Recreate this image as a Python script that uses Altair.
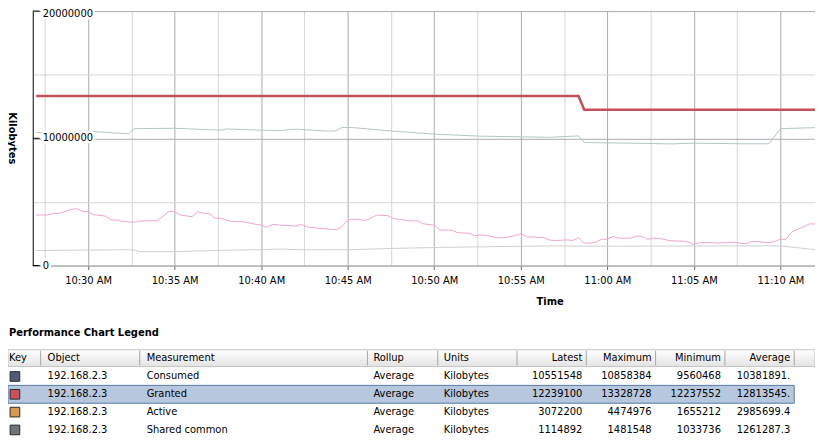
import altair as alt
import pandas as pd

FONT = "DejaVu Sans"
DAY = "2010-01-01T"

# ---------------- series data (Kilobytes) ----------------
granted_times = ["10:27:00", "10:58:20", "10:58:40", "11:12:00"]
granted_values = [13328728, 13328728, 12239100, 12239100]

consumed_times = ["10:27:00", "10:30:00", "10:32:20", "10:32:40", "10:35:00", "10:37:40", "10:38:00",
                  "10:40:00", "10:41:00", "10:42:00", "10:44:00", "10:44:20", "10:44:40", "10:45:20",
                  "10:47:40", "10:49:00", "10:50:00", "10:52:40", "10:55:00", "10:56:40", "10:58:20",
                  "10:58:40", "11:02:20", "11:03:40", "11:05:00", "11:08:00", "11:09:20", "11:10:00",
                  "11:12:00"]
consumed_values = [10450000, 10560000, 10350000, 10760000, 10790000, 10640000, 10740000,
                   10640000, 10610000, 10720000, 10560000, 10600000, 10858384, 10840000,
                   10560000, 10430000, 10330000, 10170000, 10120000, 10080000, 10190000,
                   9670000, 9600000, 9560468, 9620000, 9570000, 9570000, 10760000,
                   10840000]

active_times = ["10:27:00", "10:27:40", "10:28:00", "10:28:20", "10:29:00", "10:29:20", "10:29:40", "10:30:00",
                "10:30:20", "10:31:00", "10:31:20", "10:31:40", "10:32:00", "10:32:40", "10:33:00", "10:33:40",
                "10:34:00", "10:34:40", "10:35:00", "10:35:20", "10:36:00", "10:36:20", "10:36:40", "10:37:00",
                "10:37:20", "10:37:40", "10:38:20", "10:39:00", "10:39:40", "10:40:00", "10:40:20", "10:40:40",
                "10:41:00", "10:42:00", "10:42:20", "10:42:40", "10:43:20", "10:44:00", "10:44:20", "10:44:40",
                "10:45:00", "10:45:20", "10:46:00", "10:46:20", "10:46:40", "10:47:20", "10:47:40", "10:48:00",
                "10:48:40", "10:49:00", "10:49:20", "10:50:00", "10:50:20", "10:51:00", "10:51:20", "10:52:00",
                "10:52:20", "10:52:40", "10:53:00", "10:53:40", "10:54:00", "10:54:40", "10:55:00", "10:55:20",
                "10:56:20", "10:56:40", "10:57:00", "10:57:40", "10:58:00", "10:58:20", "10:58:40", "10:59:00",
                "10:59:20", "10:59:40", "11:00:00", "11:00:20", "11:00:40", "11:01:20", "11:01:40", "11:02:00",
                "11:02:20", "11:02:40", "11:03:00", "11:03:40", "11:04:20", "11:04:40", "11:05:00", "11:05:20",
                "11:06:00", "11:06:20", "11:07:20", "11:07:40", "11:08:00", "11:08:20", "11:08:40", "11:09:20",
                "11:09:40", "11:10:00", "11:10:20", "11:10:40", "11:11:20", "11:11:40", "11:12:00"]
active_values = [3970000, 3970000, 4100000, 4100000, 4410000, 4474976, 4260000, 4230000,
                 4000000, 3890000, 3580000, 3580000, 3480000, 3400000, 3500000, 3530000,
                 3530000, 4260000, 4230000, 3970000, 3840000, 4230000, 4100000, 4100000,
                 3740000, 3710000, 3450000, 3450000, 3240000, 3190000, 3010000, 3240000,
                 3190000, 3110000, 3240000, 3030000, 2930000, 2850000, 2800000, 3060000,
                 3580000, 3660000, 3550000, 3710000, 3970000, 3920000, 3680000, 3630000,
                 3500000, 3530000, 3290000, 3170000, 2800000, 2780000, 2590000, 2540000,
                 2360000, 2410000, 2360000, 2180000, 2180000, 2360000, 2510000, 2260000,
                 2200000, 2000000, 1970000, 2020000, 1970000, 2180000, 1760000, 1760000,
                 1840000, 2070000, 2070000, 2280000, 2150000, 2150000, 2330000, 2280000,
                 2070000, 2150000, 2130000, 1950000, 1920000, 1840000, 1655212, 1790000,
                 1810000, 1760000, 1840000, 1760000, 1710000, 1890000, 1890000, 1790000,
                 1890000, 2070000, 2070000, 2670000, 3030000, 3270000, 3270000]

shared_times = ["10:27:00", "10:30:00", "10:32:20", "10:32:40", "10:33:00", "10:35:00", "10:37:20",
                "10:40:00", "10:41:00", "10:42:00", "10:45:00", "10:47:40", "10:50:00", "10:53:00",
                "10:57:00", "10:58:40", "11:10:00", "11:11:00", "11:12:00"]
shared_values = [1180000, 1220000, 1240000, 1220000, 1090000, 1090000, 1190000,
                 1250000, 1300000, 1250000, 1240000, 1350000, 1420000, 1480000,
                 1550000, 1520000, 1550000, 1400000, 1250000]

# ---------------- axis ticks ----------------
x_tick_times = ["10:27:30", "10:30:00", "10:32:30", "10:35:00", "10:37:30", "10:40:00", "10:42:30",
                "10:45:00", "10:47:30", "10:50:00", "10:52:30", "10:55:00", "10:57:30", "11:00:00",
                "11:02:30", "11:05:00", "11:07:30", "11:10:00"]
x_domain_times = ["10:26:48", "11:12:00"]
y_ticks = [0, 2500000, 5000000, 7500000, 10000000, 12500000, 15000000, 17500000, 20000000]
y_label_values = [0, 10000000, 20000000]

# ---------------- legend table ----------------
header_labels = ["Key", "Object", "Measurement", "Rollup", "Units", "Latest", "Maximum", "Minimum", "Average"]
legend_key_colors = ["#525a78", "#c9525c", "#d99a52", "#6e7478"]
legend_objects = ["192.168.2.3", "192.168.2.3", "192.168.2.3", "192.168.2.3"]
legend_measurements = ["Consumed", "Granted", "Active", "Shared common"]
legend_rollups = ["Average", "Average", "Average", "Average"]
legend_units = ["Kilobytes", "Kilobytes", "Kilobytes", "Kilobytes"]
legend_latest = [10551548, 12239100, 3072200, 1114892]
legend_maximum = [10858384, 13328728, 4474976, 1481548]
legend_minimum = [9560468, 12237552, 1655212, 1033736]
legend_average = ["10381891.", "12813545.", "2985699.4", "1261287.3"]
selected_row = 1

# ---------------- layout (pixels, relative to plot origin) ----------------
W, H = 790, 257
header_x = [-24, 15, 115, 344, 415, 555, 625, 695, 765]
header_align = ["left", "left", "left", "left", "left", "right", "right", "right", "right"]
separator_x = [8, 108, 338, 409, 489, 559, 629, 699, 769]
row_y = [369, 387, 405, 423]
header_y = 350


def dt(t):
    h, m, s = (int(p) for p in t.split(":"))
    return alt.DateTime(year=2010, month=1, date=1, hours=h, minutes=m, seconds=s)


series_rows = []
for name, ts, vs in [("Consumed", consumed_times, consumed_values),
                     ("Active", active_times, active_values),
                     ("Shared common", shared_times, shared_values)]:
    for t, v in zip(ts, vs):
        series_rows.append({"series": name, "time": DAY + t, "value": v})
df_others = pd.DataFrame(series_rows)
df_granted = pd.DataFrame({"time": [DAY + t for t in granted_times], "value": granted_values})

x_scale = alt.Scale(domain=[dt(t) for t in x_domain_times])
y_scale = alt.Scale(domain=[0, 20000000], nice=False, zero=True)

x_axis = alt.Axis(
    values=[dt(t) for t in x_tick_times],
    title="Time", titleFont=FONT, titleFontSize=10, titleFontWeight="bold", titleColor="#000000",
    titleX=522, titleY=36, titleBaseline="middle", titleAlign="center",
    labelExpr="(minutes(datum.value) % 5 == 0 && seconds(datum.value) == 0) ? timeFormat(datum.value, '%-I:%M %p') : ''",
    labelFont=FONT, labelFontSize=10, labelColor="#000000", labelPadding=6,
    labelOverlap=False, labelFlush=False,
    tickSize=4,
    tickColor={"condition": {"test": "minutes(datum.value) % 5 == 0 && seconds(datum.value) == 0",
                             "value": "#6b6b6b"}, "value": "transparent"},
    gridColor={"condition": {"test": "minutes(datum.value) % 5 == 0 && seconds(datum.value) == 0",
                             "value": "#ababab"}, "value": "#d6d6d6"},
    grid=True, domainColor="#a8a8a8",
)
y_axis = alt.Axis(
    values=y_ticks, labels=False, ticks=False, grid=True,
    gridColor={"condition": {"test": "datum.value % 10000000 == 0", "value": "#ababab"}, "value": "#d6d6d6"},
    domainColor="#000000",
    title="Kilobytes", titleFont=FONT, titleFontSize=10, titleFontWeight="bold", titleColor="#000000",
    titleAngle=90, titleX=-21, titleY=128, titleAlign="center", titleBaseline="middle",
)

lines_others = alt.Chart(df_others).mark_line(strokeWidth=1).encode(
    x=alt.X("time:T", scale=x_scale, axis=x_axis),
    y=alt.Y("value:Q", scale=y_scale, axis=y_axis),
    color=alt.Color("series:N", scale=alt.Scale(domain=["Consumed", "Active", "Shared common"],
                                                range=["#b3c6bb", "#eda5cf", "#cfcfcf"]), legend=None),
)
lines_granted = alt.Chart(df_granted).mark_line(strokeWidth=2.5, color="#c4505a").encode(
    x="time:T", y="value:Q")

df_ylab = pd.DataFrame({"v": y_label_values})


def ylabel_layers(test, shift):
    base = alt.Chart(df_ylab).transform_filter(test)
    halo = base.mark_text(
        align="left", baseline="middle", font=FONT, fontSize=10, fill="white",
        stroke="white", strokeWidth=5, dy=shift).encode(
        x=alt.value(10), y="v:Q", text=alt.Text("v:Q", format="d"))
    txt = base.mark_text(
        align="left", baseline="middle", font=FONT, fontSize=10, color="#000000", dy=shift).encode(
        x=alt.value(10), y="v:Q", text=alt.Text("v:Q", format="d"))
    return [halo, txt]


ylab_layers = ylabel_layers("datum.v < 20000000", 0) + ylabel_layers("datum.v >= 20000000", 3)
ylab_ticks = alt.Chart(df_ylab).mark_rule(color="#000000").encode(
    x=alt.value(0), x2=alt.value(7), y="v:Q")

one = alt.Data(values=[{"k": 0}])

title_text = alt.Chart(one).mark_text(
    text="Performance Chart Legend", align="left", baseline="middle",
    font=FONT, fontSize=10, fontWeight="bold", color="#000000").encode(
    x=alt.value(-24), y=alt.value(325))

header_rect = alt.Chart(one).mark_rect(
    fill=alt.LinearGradient(gradient="linear",
                            stops=[alt.GradientStop(color="#ffffff", offset=0),
                                   alt.GradientStop(color="#e3e3e3", offset=1)],
                            x1=0, x2=0, y1=0, y2=1),
    stroke="#c2c2c2", strokeWidth=1).encode(
    x=alt.value(-25), x2=alt.value(W), y=alt.value(342), y2=alt.value(359))

df_sep = pd.DataFrame({"px": separator_x})
separators = alt.Chart(df_sep).mark_rule(color="#a6a6a6").encode(
    x=alt.X("px:Q", scale=None), y=alt.value(343), y2=alt.value(358))

df_head = pd.DataFrame({"txt": header_labels, "px": header_x, "al": header_align})
head_left = alt.Chart(df_head).transform_filter("datum.al == 'left'").mark_text(
    align="left", baseline="middle", font=FONT, fontSize=10, color="#000000").encode(
    x=alt.X("px:Q", scale=None), y=alt.value(header_y), text="txt:N")
head_right = alt.Chart(df_head).transform_filter("datum.al == 'right'").mark_text(
    align="right", baseline="middle", font=FONT, fontSize=10, color="#000000").encode(
    x=alt.X("px:Q", scale=None), y=alt.value(header_y), text="txt:N")

sel_rect = alt.Chart(one).mark_rect(fill="#b6c7de", stroke="#5477aa", strokeWidth=1).encode(
    x=alt.value(-25), x2=alt.value(769),
    y=alt.value(row_y[selected_row] - 9), y2=alt.value(row_y[selected_row] + 9))

cells = []
columns = [legend_objects, legend_measurements, legend_rollups, legend_units,
           legend_latest, legend_maximum, legend_minimum, legend_average]
for ci, col in enumerate(columns):
    for ri, val in enumerate(col):
        cells.append({"txt": str(val), "px": header_x[ci + 1], "py": row_y[ri], "al": header_align[ci + 1]})
df_cells = pd.DataFrame(cells)
cells_left = alt.Chart(df_cells).transform_filter("datum.al == 'left'").mark_text(
    align="left", baseline="middle", font=FONT, fontSize=10, color="#000000").encode(
    x=alt.X("px:Q", scale=None), y=alt.Y("py:Q", scale=None), text="txt:N")
cells_right = alt.Chart(df_cells).transform_filter("datum.al == 'right'").mark_text(
    align="right", baseline="middle", font=FONT, fontSize=10, color="#000000").encode(
    x=alt.X("px:Q", scale=None), y=alt.Y("py:Q", scale=None), text="txt:N")

df_keys = pd.DataFrame({"c": legend_key_colors, "py": row_y})
keys = alt.Chart(df_keys).mark_square(size=95, opacity=1, stroke="#2a2a2a", strokeWidth=1).encode(
    x=alt.value(-18), y=alt.Y("py:Q", scale=None), fill=alt.Fill("c:N", scale=None, legend=None))

chart = alt.layer(
    lines_others, lines_granted, ylab_ticks, *ylab_layers,
    title_text, header_rect, separators, head_left, head_right,
    sel_rect, cells_left, cells_right, keys,
).properties(
    width=W, height=H,
    autosize=alt.AutoSizeParams(type="none"),
    padding={"left": 25, "top": 1, "right": 0, "bottom": 170},
).configure_view(stroke=None)

chart.save("out.html", embed_options={"renderer": "svg", "actions": False})
